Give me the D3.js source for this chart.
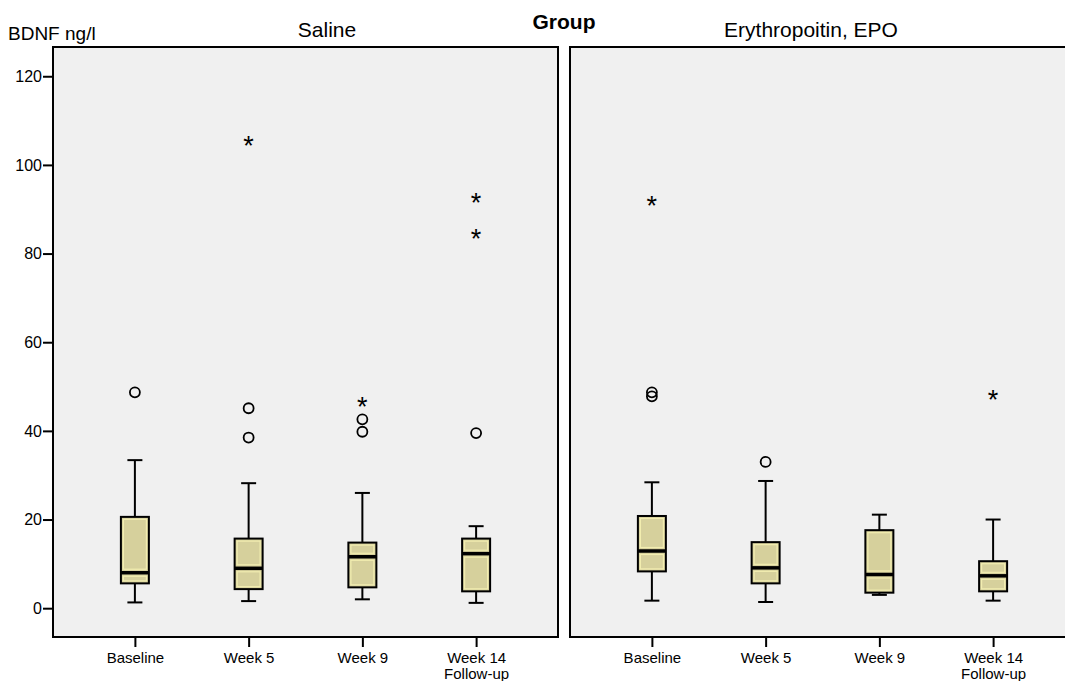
<!DOCTYPE html>
<html>
<head>
<meta charset="utf-8">
<script src="https://cdn.jsdelivr.net/npm/d3@7"></script>
<style>
  body { margin: 0; background: #fff; }
  text { font-family: "Liberation Sans", Arial, sans-serif; fill: #000; }
</style>
</head>
<body>
<svg id="chart" width="1065" height="681"></svg>
<script>
// groups (panels) and timepoints
const groups = ["Saline", "Erythropoitin, EPO"];
const timepoints = ["Baseline", "Week 5", "Week 9", "Week 14\nFollow-up"];
const yTicks = [0, 20, 40, 60, 80, 100, 120];

// box stats per timepoint: [low whisker, Q1, median, Q3, high whisker]
const salineStats = [
    [1.3, 5.6, 8.0, 20.6, 33.4],
    [1.6, 4.3, 9.0, 15.7, 28.2],
    [2.0, 4.7, 11.6, 14.8, 26.0],
    [1.2, 3.8, 12.3, 15.7, 18.5]
];
const epoStats = [
    [1.7, 8.3, 12.9, 20.8, 28.4],
    [1.4, 5.6, 9.1, 14.9, 28.7],
    [3.0, 3.5, 7.6, 17.6, 21.1],
    [1.7, 3.8, 7.3, 10.6, 20.0]
];

// outliers (circles) and extremes (stars)
const salineOutliers = [[48.7], [45.1, 38.5], [42.6, 39.8], [39.5]];
const salineExtremes = [[], [105.6], [46.8], [92.8, 84.7]];
const epoOutliers = [[48.7, 47.8], [33.0], [], []];
const epoExtremes = [[92.0], [], [], [48.4]];

const panelData = [
    { group: groups[0], stats: salineStats, outliers: salineOutliers, extremes: salineExtremes, titleX: 327 },
    { group: groups[1], stats: epoStats, outliers: epoOutliers, extremes: epoExtremes, titleX: 811 }
];

const svg = d3.select("#chart");

const y = d3.scaleLinear().domain([-6.5, 126.6]).range([637, 47]);

const panelX = d3.scaleBand()
    .domain(groups)
    .range([53, 1075])
    .paddingInner(0.0232);

const x = d3.scalePoint()
    .domain(timepoints)
    .range([0, panelX.bandwidth()])
    .padding(0.72);

const boxW = 28, capW = 15;
const boxFill = "#d6d09c", boxLight = "#f2edb0";

// overall titles
svg.append("text")
    .attr("x", 8).attr("y", 40)
    .style("font-size", "19px")
    .text("BDNF ng/l");

svg.append("text")
    .attr("x", 564).attr("y", 29)
    .attr("text-anchor", "middle")
    .style("font-size", "21px").style("font-weight", "bold")
    .text("Group");

panelData.forEach((p, pi) => {
    const g = svg.append("g")
        .attr("transform", `translate(${panelX(p.group)},0)`);

    // panel background + frame
    g.append("rect")
        .attr("x", 0).attr("y", y.range()[1])
        .attr("width", panelX.bandwidth())
        .attr("height", y.range()[0] - y.range()[1])
        .attr("fill", "#f0f0f0")
        .attr("stroke", "#000")
        .attr("stroke-width", 2);

    // panel title
    svg.append("text")
        .attr("x", p.titleX).attr("y", 37)
        .attr("text-anchor", "middle")
        .style("font-size", "21px")
        .text(p.group);

    // x axis
    const xAxis = g.append("g")
        .attr("transform", `translate(0,${y.range()[0]})`)
        .call(d3.axisBottom(x).tickSize(10).tickFormat(""));
    xAxis.select(".domain").remove();
    xAxis.selectAll(".tick line").attr("stroke", "#000").attr("stroke-width", 2);
    xAxis.selectAll(".tick").each(function(d) {
        const t = d3.select(this).append("text")
            .attr("text-anchor", "middle")
            .attr("y", 25.5)
            .style("font-size", "15px");
        d.split("\n").forEach((line, i) => {
            t.append("tspan").attr("x", 0).attr("dy", i === 0 ? 0 : 16).text(line);
        });
    });

    // y axis only on first panel
    if (pi === 0) {
        const yAxis = g.append("g")
            .call(d3.axisLeft(y).tickValues(yTicks).tickSize(10).tickPadding(1));
        yAxis.select(".domain").remove();
        yAxis.selectAll(".tick line").attr("stroke", "#000").attr("stroke-width", 2);
        yAxis.selectAll(".tick text").style("font-size", "16px").attr("fill", "#000");
    }

    // boxes
    const boxes = g.selectAll(".box")
        .data(p.stats)
        .enter().append("g")
        .attr("class", "box")
        .attr("transform", (d, i) => `translate(${x(timepoints[i])},0)`);

    // whiskers
    boxes.append("line")
        .attr("y1", d => y(d[0])).attr("y2", d => y(d[1]))
        .attr("stroke", "#000").attr("stroke-width", 2);
    boxes.append("line")
        .attr("y1", d => y(d[3])).attr("y2", d => y(d[4]))
        .attr("stroke", "#000").attr("stroke-width", 2);
    boxes.append("line")
        .attr("x1", -capW / 2).attr("x2", capW / 2)
        .attr("y1", d => y(d[0])).attr("y2", d => y(d[0]))
        .attr("stroke", "#000").attr("stroke-width", 2);
    boxes.append("line")
        .attr("x1", -capW / 2).attr("x2", capW / 2)
        .attr("y1", d => y(d[4])).attr("y2", d => y(d[4]))
        .attr("stroke", "#000").attr("stroke-width", 2);

    // box body
    boxes.append("rect")
        .attr("x", -boxW / 2)
        .attr("y", d => y(d[3]))
        .attr("width", boxW)
        .attr("height", d => y(d[1]) - y(d[3]))
        .attr("fill", boxFill)
        .attr("stroke", "#000").attr("stroke-width", 2);

    // light inner highlight above and below the median
    boxes.append("rect")
        .attr("x", -boxW / 2 + 2.5)
        .attr("y", d => y(d[3]) + 2.5)
        .attr("width", boxW - 5)
        .attr("height", d => Math.max(0, y(d[2]) - y(d[3]) - 6))
        .attr("fill", "none")
        .attr("stroke", boxLight).attr("stroke-width", 1.2);
    boxes.append("rect")
        .attr("x", -boxW / 2 + 2.5)
        .attr("y", d => y(d[2]) + 3.5)
        .attr("width", boxW - 5)
        .attr("height", d => Math.max(0, y(d[1]) - y(d[2]) - 6))
        .attr("fill", "none")
        .attr("stroke", boxLight).attr("stroke-width", 1.2);

    // median
    boxes.append("line")
        .attr("x1", -boxW / 2).attr("x2", boxW / 2)
        .attr("y1", d => y(d[2])).attr("y2", d => y(d[2]))
        .attr("stroke", "#000").attr("stroke-width", 3.5);

    // outliers as circles
    p.outliers.forEach((vals, i) => {
        g.selectAll(null)
            .data(vals)
            .enter().append("circle")
            .attr("cx", x(timepoints[i]))
            .attr("cy", d => y(d))
            .attr("r", 5)
            .attr("fill", "none")
            .attr("stroke", "#000").attr("stroke-width", 1.8);
    });

    // extremes as stars
    p.extremes.forEach((vals, i) => {
        g.selectAll(null)
            .data(vals)
            .enter().append("text")
            .attr("x", x(timepoints[i]))
            .attr("y", d => y(d))
            .attr("dy", "0.56em")
            .attr("text-anchor", "middle")
            .style("font-size", "27px")
            .text("*");
    });
});
</script>
</body>
</html>
